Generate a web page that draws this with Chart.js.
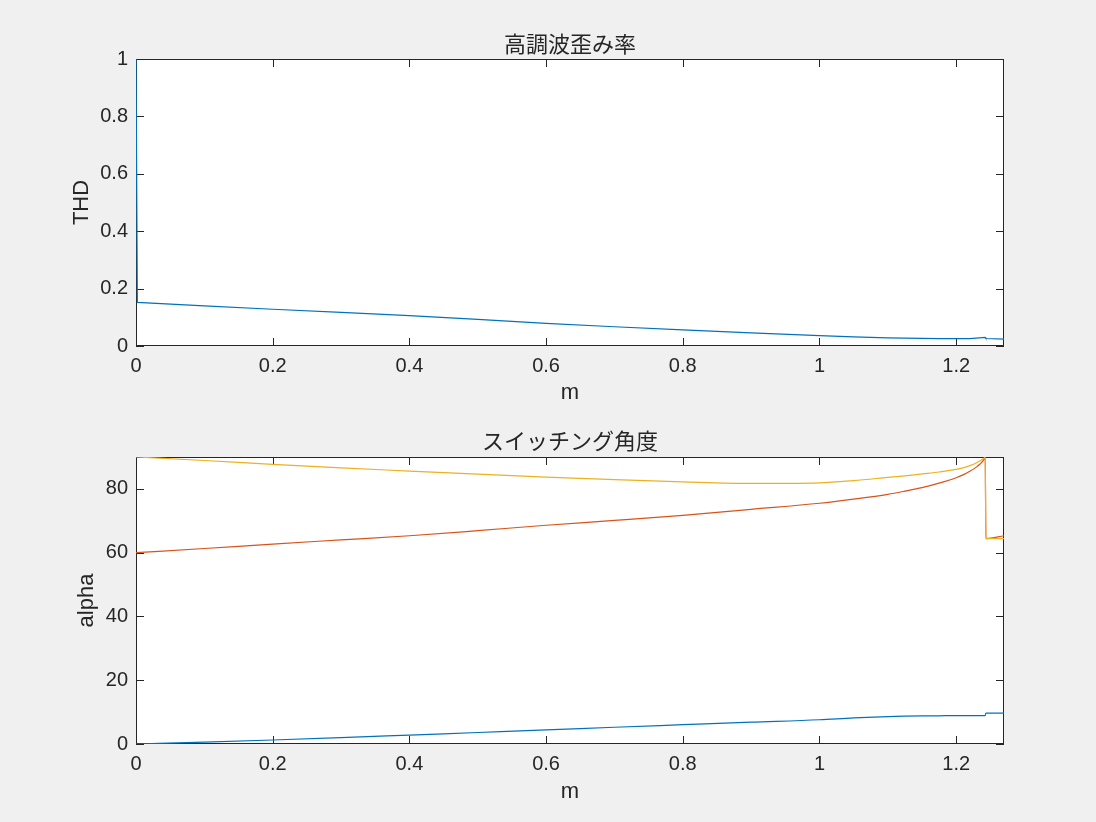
<!DOCTYPE html>
<html>
<head>
<meta charset="utf-8">
<script src="https://cdn.jsdelivr.net/npm/chart.js@4"></script>
<style>
  body { margin: 0; background: #f0f0f0; }
  .panel { position: absolute; left: 0; width: 1096px; height: 411px; }
</style>
</head>
<body>
<div class="panel" style="top:0"><canvas id="thdChart" width="1096" height="411"></canvas></div>
<div class="panel" style="top:411px"><canvas id="angleChart" width="1096" height="411"></canvas></div>
<script>
// DATA
const mThd = [0, 0.002, 0.1, 0.2, 0.3, 0.4, 0.5, 0.6, 0.7, 0.8, 0.9, 1.0, 1.05, 1.1, 1.125, 1.15, 1.175, 1.2, 1.22, 1.2425, 1.2435, 1.27];
const thd  = [1.0, 0.152, 0.140, 0.128, 0.117, 0.106, 0.093, 0.079, 0.067, 0.056, 0.046, 0.036, 0.032, 0.0285, 0.0275, 0.0265, 0.026, 0.0255, 0.026, 0.030, 0.026, 0.024];

const mAngle = [0, 0.1, 0.2, 0.3, 0.4, 0.5, 0.6, 0.7, 0.8, 0.9, 1.0, 1.05, 1.1, 1.125, 1.15, 1.175, 1.2, 1.21, 1.22, 1.23, 1.235, 1.24, 1.2425, 1.2435, 1.27];
const alpha1 = [0, 0.6, 1.25, 2.0, 2.8, 3.6, 4.4, 5.25, 6.05, 6.85, 7.6, 8.2, 8.6, 8.72, 8.8, 8.85, 8.9, 8.9, 8.9, 8.9, 8.9, 8.9, 8.9, 9.7, 9.7];
const alpha2 = [60.0, 61.3, 62.7, 64.0, 65.3, 66.9, 68.6, 70.1, 71.7, 73.6, 75.5, 76.8, 78.3, 79.3, 80.4, 81.8, 83.5, 84.4, 85.5, 86.9, 87.8, 89.0, 90.0, 64.4, 65.3];
const alpha3 = [90.0, 88.9, 87.7, 86.6, 85.6, 84.6, 83.7, 82.9, 82.2, 81.7, 81.9, 82.6, 83.6, 84.1, 84.7, 85.3, 86.1, 86.6, 87.3, 88.2, 88.8, 89.5, 90.0, 64.4, 64.4];

const xTicks = [0, 0.2, 0.4, 0.6, 0.8, 1, 1.2];
const xTickLabels = ['0', '0.2', '0.4', '0.6', '0.8', '1', '1.2'];
const thdTicks = [0, 0.2, 0.4, 0.6, 0.8, 1];
const thdTickLabels = ['0', '0.2', '0.4', '0.6', '0.8', '1'];
const angleTicks = [0, 20, 40, 60, 80];
const angleTickLabels = ['0', '20', '40', '60', '80'];

const xMax = 1.27;

// MATLAB-LIKE LOOK
const AXIS_COLOR = '#262626';
const TICK_FONT = { family: "'Liberation Sans', Arial, sans-serif", size: 20 };
const LABEL_FONT = { family: "'Liberation Sans', Arial, sans-serif", size: 22 };
const TITLE_FONT = { family: "'Noto Sans CJK JP', sans-serif", size: 22, weight: 'normal' };

function points(xs, ys) {
    return xs.map((x, i) => ({ x: x, y: ys[i] }));
}

// white plot area, box and inward ticks on all four sides
const boxPlugin = {
    id: 'matlabBox',
    beforeDraw(chart) {
        const { ctx, chartArea: a } = chart;
        ctx.save();
        ctx.fillStyle = '#ffffff';
        ctx.fillRect(a.left, a.top, a.right - a.left, a.bottom - a.top);
        ctx.restore();
    },
    beforeDatasetsDraw(chart) {
        const { ctx, chartArea: a, scales } = chart;
        const len = 8;
        ctx.save();
        ctx.strokeStyle = AXIS_COLOR;
        ctx.lineWidth = 1;
        ctx.beginPath();
        scales.x.ticks.forEach(t => {
            const px = Math.round(scales.x.getPixelForValue(t.value)) + 0.5;
            ctx.moveTo(px, a.bottom);
            ctx.lineTo(px, a.bottom - len);
            ctx.moveTo(px, a.top);
            ctx.lineTo(px, a.top + len);
        });
        scales.y.ticks.forEach(t => {
            const py = Math.round(scales.y.getPixelForValue(t.value)) + 0.5;
            ctx.moveTo(a.left, py);
            ctx.lineTo(a.left + len, py);
            ctx.moveTo(a.right, py);
            ctx.lineTo(a.right - len, py);
        });
        ctx.stroke();
        ctx.strokeRect(a.left + 0.5, a.top + 0.5, a.right - a.left - 1, a.bottom - a.top - 1);
        ctx.restore();
    }
};

function makeOptions(cfg) {
    return {
        responsive: false,
        animation: false,
        layout: { padding: { left: 0, right: 92, top: 0, bottom: 0 } },
        plugins: {
            legend: { display: false },
            tooltip: { enabled: false },
            title: {
                display: true,
                fullSize: false,
                text: cfg.title,
                color: AXIS_COLOR,
                font: TITLE_FONT,
                padding: cfg.titlePadding
            }
        },
        elements: {
            point: { radius: 0 },
            line: { tension: 0 }
        },
        scales: {
            x: {
                type: 'linear',
                min: 0,
                max: xMax,
                grid: { display: false, drawTicks: false },
                border: { display: false },
                afterBuildTicks: s => { s.ticks = xTicks.map(v => ({ value: v })); },
                afterFit: s => { s.height = cfg.xHeight; },
                ticks: {
                    color: AXIS_COLOR,
                    font: TICK_FONT,
                    padding: 8,
                    maxRotation: 0,
                    callback: v => xTickLabels[xTicks.indexOf(v)]
                },
                title: {
                    display: true,
                    text: 'm',
                    color: AXIS_COLOR,
                    font: LABEL_FONT,
                    padding: { top: 0, bottom: cfg.xTitlePad }
                }
            },
            y: {
                type: 'linear',
                min: cfg.yMin,
                max: cfg.yMax,
                grid: { display: false, drawTicks: false },
                border: { display: false },
                afterBuildTicks: s => { s.ticks = cfg.yTicks.map(v => ({ value: v })); },
                afterFit: s => { s.width = 136; },
                ticks: {
                    color: AXIS_COLOR,
                    font: TICK_FONT,
                    padding: 8,
                    callback: v => cfg.yLabels[cfg.yTicks.indexOf(v)]
                },
                title: {
                    display: true,
                    text: cfg.yTitle,
                    color: AXIS_COLOR,
                    font: LABEL_FONT,
                    padding: { top: cfg.yTitlePad, bottom: 0 }
                }
            }
        }
    };
}

// TOP: HARMONIC DISTORTION
new Chart(document.getElementById('thdChart'), {
    type: 'line',
    data: {
        datasets: [{
            data: points(mThd, thd),
            borderColor: '#0072BD',
            borderWidth: 1.2
        }]
    },
    options: makeOptions({
        title: '高調波歪み率',
        titlePadding: { top: 30.8, bottom: 1.8 },
        xHeight: 65,
        xTitlePad: 4.8,
        yMin: 0, yMax: 1,
        yTicks: thdTicks, yLabels: thdTickLabels,
        yTitle: 'THD',
        yTitlePad: 68.5
    }),
    plugins: [boxPlugin]
});

// BOTTOM: SWITCHING ANGLES
new Chart(document.getElementById('angleChart'), {
    type: 'line',
    data: {
        datasets: [
            { data: points(mAngle, alpha1), borderColor: '#0072BD', borderWidth: 1.2, order: 3, cubicInterpolationMode: 'monotone' },
            { data: points(mAngle, alpha2), borderColor: '#D95319', borderWidth: 1.2, order: 2, cubicInterpolationMode: 'monotone' },
            { data: points(mAngle, alpha3), borderColor: '#EDB120', borderWidth: 1.2, order: 1, cubicInterpolationMode: 'monotone' }
        ]
    },
    options: makeOptions({
        title: 'スイッチング角度',
        titlePadding: { top: 16.8, bottom: 2.8 },
        xHeight: 78,
        xTitlePad: 16.8,
        yMin: 0, yMax: 90,
        yTicks: angleTicks, yLabels: angleTickLabels,
        yTitle: 'alpha',
        yTitlePad: 74
    }),
    plugins: [boxPlugin]
});
</script>
</body>
</html>
